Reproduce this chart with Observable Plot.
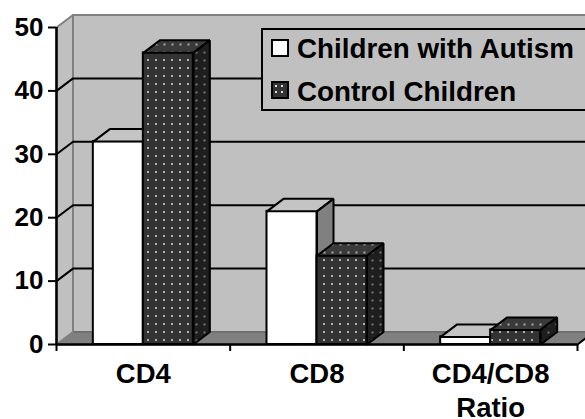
<!DOCTYPE html>
<html>
<head>
<meta charset="utf-8">
<script src="https://cdn.jsdelivr.net/npm/d3@7"></script>
<script src="https://cdn.jsdelivr.net/npm/@observablehq/plot@0.6"></script>
<style>
  html, body { margin: 0; padding: 0; background: #fff; overflow: hidden; }
  #wrap { position: relative; width: 585px; height: 419px; overflow: hidden; }
  #legend { position: absolute; left: 261px; top: 28px; width: 400px; height: 79px;
            border: 2px solid #000; background: #c0c0c0;
            font: bold 27.8px "Liberation Sans", Arial, sans-serif; color: #000; }
  .sw { position: absolute; left: 8px; width: 14px; height: 14px; border: 2px solid #000; }
  .lab { position: absolute; left: 34px; line-height: 27.5px; white-space: nowrap; }
  .dark { background-color: #333;
          background-image: radial-gradient(circle, #ddd 0.9px, transparent 1.3px);
          background-size: 6px 6px; background-position: 0 0; }
</style>
</head>
<body>
<svg width="0" height="0" style="position:absolute">
  <defs>
    <pattern id="dotsFront" width="8" height="8" patternUnits="userSpaceOnUse">
      <rect width="8" height="8" fill="#333"/>
      <circle cx="4" cy="4" r="1" fill="#e0e0e0"/>
    </pattern>
    <pattern id="dotsTop" width="8" height="8" patternUnits="userSpaceOnUse">
      <rect width="8" height="8" fill="#3a3a3a"/>
      <circle cx="4" cy="4" r="1" fill="#d0d0d0"/>
    </pattern>
    <pattern id="dotsSide" width="8" height="8" patternUnits="userSpaceOnUse">
      <rect width="8" height="8" fill="#1e1e1e"/>
      <circle cx="4" cy="4" r="0.9" fill="#a0a0a0"/>
    </pattern>
  </defs>
</svg>
<div id="wrap">
  <div id="chart"></div>
  <div id="legend">
    <div class="sw" style="top:9px;background:#fff"></div>
    <div class="lab" id="lab0" style="top:5px"></div>
    <div class="sw dark" style="top:51px"></div>
    <div class="lab" id="lab1" style="top:48.4px"></div>
  </div>
</div>
<script>
// ---- data ----
const categories = ["CD4", "CD8", "CD4/CD8\nRatio"];
const seriesNames = ["Children with Autism", "Control Children"];
const autism = [32, 21, 1.2];
const control = [46, 14, 2.3];
const yTicks = [0, 10, 20, 30, 40, 50];

document.getElementById("lab0").textContent = seriesNames[0];
document.getElementById("lab1").textContent = seriesNames[1];

// ---- layout ----
const W = 585, H = 419;
const mL = 56, mR = 8, mT = 27, mB = 75;
const xDomain = [-0.5, categories.length - 0.5];
const yDomain = [0, 50];
const pxX = (W - mL - mR) / (xDomain[1] - xDomain[0]);
const pxY = (H - mT - mB) / (yDomain[1] - yDomain[0]);
const depthPx = [16.5, 12.5];
const DX = depthPx[0] / pxX;      // depth in x data units
const DY = depthPx[1] / pxY;      // depth in y data units
const BW = 50 / pxX;              // bar width in x data units

// bars table built from the arrays
const bars = [];
[autism, control].forEach((vals, s) => {
  vals.forEach((v, i) => {
    const x1 = s === 0 ? i - BW : i;
    bars.push({s, i, v, x1, x2: x1 + BW});
  });
});
function topFace(b) {
  return [[b.x1, b.v], [b.x2, b.v], [b.x2 + DX, b.v + DY], [b.x1 + DX, b.v + DY], [b.x1, b.v]]
    .map(([x, y]) => ({x, y, id: `t${b.s}-${b.i}`}));
}
function sideFace(b) {
  return [[b.x2, 0], [b.x2, b.v], [b.x2 + DX, b.v + DY], [b.x2 + DX, DY], [b.x2, 0]]
    .map(([x, y]) => ({x, y, id: `s${b.s}-${b.i}`}));
}
const barsA = bars.filter(b => b.s === 0), barsC = bars.filter(b => b.s === 1);
const tops = s => bars.filter(b => b.s === s).flatMap(topFace);
const sides = s => bars.filter(b => b.s === s).flatMap(sideFace);

const [X0, X1] = xDomain;
const leftWall = [[X0, 0], [X0, yDomain[1]], [X0 + DX, yDomain[1] + DY], [X0 + DX, DY], [X0, 0]]
  .map(([x, y]) => ({x, y}));
const floor = [[X0, 0], [X1, 0], [X1 + DX, DY], [X0 + DX, DY], [X0, 0]].map(([x, y]) => ({x, y}));
const gridVals = yTicks.filter(t => t > 0 && t < yDomain[1]);
const catBounds = d3.range(categories.length + 1).map(i => i - 0.5);

const chart = Plot.plot({
  width: W, height: H,
  marginLeft: mL, marginRight: mR, marginTop: mT, marginBottom: mB,
  x: {type: "linear", domain: xDomain, axis: null},
  y: {domain: yDomain, axis: null},
  style: {background: "transparent", color: "black", fontFamily: "'Liberation Sans', Arial, sans-serif", fontWeight: "bold", fontSize: "26px"},
  marks: [
    // back wall
    Plot.frame({fill: "#c0c0c0", stroke: "#808080", strokeWidth: 2, dx: depthPx[0], dy: -depthPx[1]}),
    // floor
    Plot.line(floor, {x: "x", y: "y", fill: "#808080", stroke: "#6a6a6a", strokeWidth: 1.5, curve: "linear"}),
    Plot.link([X1], {x1: d => d, y1: () => 0, x2: d => d + DX, y2: () => DY, stroke: "black", strokeWidth: 2}),
    // left wall
    Plot.line(leftWall, {x: "x", y: "y", fill: "#c0c0c0", stroke: "#808080", strokeWidth: 2, curve: "linear"}),
    // gridlines on back wall and left wall
    Plot.ruleY(gridVals, {dx: depthPx[0], dy: -depthPx[1], stroke: "black", strokeWidth: 2}),
    Plot.link(gridVals, {x1: () => X0, y1: d => d, x2: () => X0 + DX, y2: d => d + DY, stroke: "black", strokeWidth: 2}),
    // autism bars (white)
    Plot.rect(barsA, {x1: "x1", x2: "x2", y1: () => 0, y2: "v", fill: "white", stroke: "black", strokeWidth: 2}),
    Plot.line(tops(0), {x: "x", y: "y", z: "id", fill: "#c4c4c4", stroke: "black", strokeWidth: 2, curve: "linear", strokeLinejoin: "miter"}),
    Plot.line(sides(0), {x: "x", y: "y", z: "id", fill: "#808080", stroke: "black", strokeWidth: 2, curve: "linear", strokeLinejoin: "miter"}),
    // control bars (dark dotted)
    Plot.rect(barsC, {x1: "x1", x2: "x2", y1: () => 0, y2: "v", fill: "url(#dotsFront)", stroke: "black", strokeWidth: 2}),
    Plot.line(tops(1), {x: "x", y: "y", z: "id", fill: "url(#dotsTop)", stroke: "black", strokeWidth: 2, curve: "linear", strokeLinejoin: "miter"}),
    Plot.line(sides(1), {x: "x", y: "y", z: "id", fill: "url(#dotsSide)", stroke: "black", strokeWidth: 2, curve: "linear", strokeLinejoin: "miter"}),
    // front axes
    Plot.ruleY([0], {stroke: "black", strokeWidth: 2.5}),
    Plot.ruleX([X0], {y1: () => yDomain[0], y2: () => yDomain[1], stroke: "black", strokeWidth: 2.5}),
    Plot.axisY({ticks: yTicks, tickSize: 8, tickPadding: 5, strokeWidth: 2, label: null, fontSize: 26}),
    Plot.axisX({ticks: catBounds, tickSize: 7, tickFormat: () => "", strokeWidth: 2, label: null}),
    Plot.text(categories, {x: (d, i) => i, y: () => 0, text: d => d, dy: 14, lineAnchor: "top", lineHeight: 1.24, fontSize: 27.5, fontWeight: "bold"})
  ]
});
document.getElementById("chart").appendChild(chart);
</script>
</body>
</html>
